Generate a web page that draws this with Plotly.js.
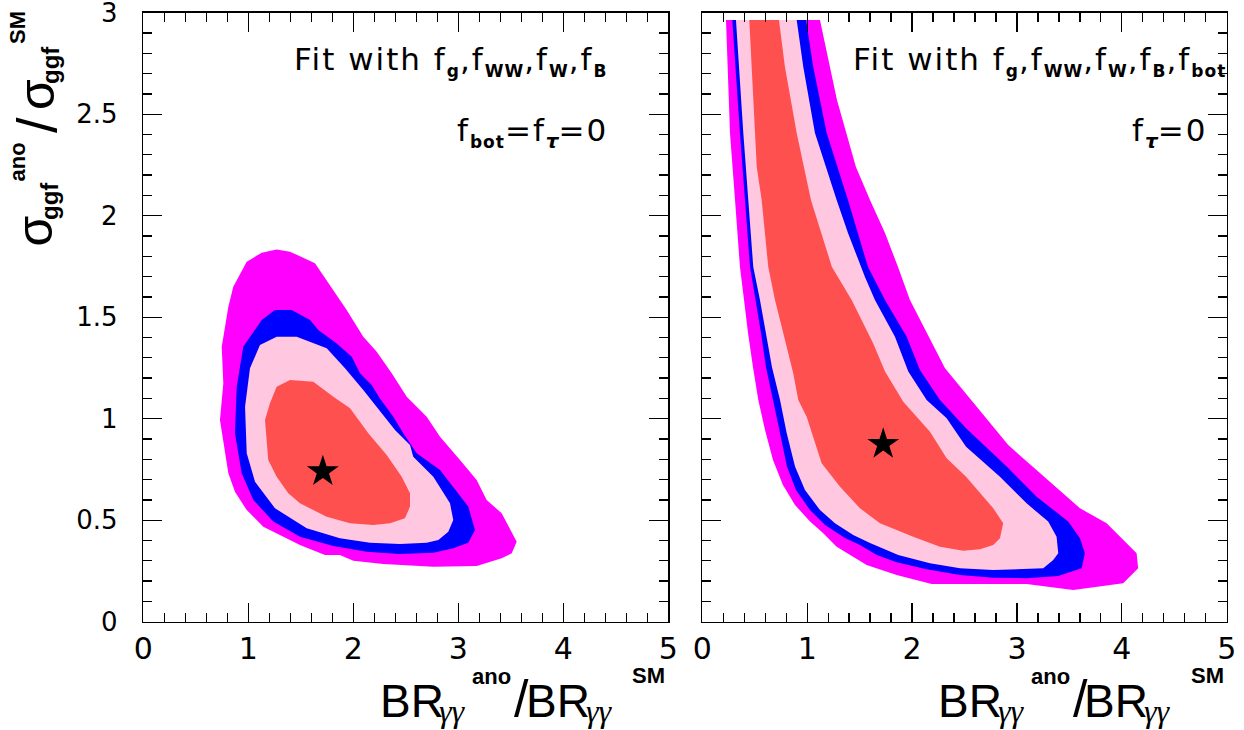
<!DOCTYPE html>
<html><head><meta charset="utf-8">
<script src="https://cdn.plot.ly/plotly-3.0.1.min.js"></script>
<style>html,body{margin:0;padding:0;background:#fff}</style>
</head><body>
<div id="chart" style="width:1244px;height:730px"></div>
<script>
// ---------------- data ----------------
// Left panel: fit with fg, fWW, fW, fB  (fbot = ftau = 0)
const leftMagentaX = [1.270,1.397,1.635,1.778,1.937,2.095,2.223,2.366,2.509,2.699,2.826,3.016,3.175,3.270,3.413,3.556,3.509,3.413,3.175,2.762,2.286,2.000,1.873,1.730,1.492,1.143,0.985,0.873,0.810,0.730,0.762,0.747,0.810,0.857,0.985,1.128];
const leftMagentaY = [1.834,1.823,1.766,1.659,1.535,1.404,1.330,1.224,1.108,1.010,0.911,0.797,0.698,0.600,0.534,0.394,0.337,0.312,0.274,0.271,0.284,0.300,0.329,0.329,0.378,0.468,0.550,0.640,0.731,0.994,1.174,1.355,1.552,1.650,1.773,1.818];
const leftBlueX = [1.254,1.413,1.588,1.667,1.842,1.985,2.064,2.175,2.254,2.381,2.476,2.604,2.826,2.952,3.095,3.159,3.095,2.952,2.762,2.445,2.128,1.810,1.492,1.238,1.048,0.937,0.873,0.890,0.952,1.128];
const leftBlueY = [1.535,1.535,1.486,1.437,1.371,1.305,1.224,1.166,1.100,1.010,0.928,0.830,0.747,0.665,0.567,0.452,0.389,0.362,0.340,0.333,0.345,0.373,0.419,0.493,0.600,0.731,0.928,1.158,1.355,1.486];
const leftPinkX = [1.270,1.461,1.747,1.921,2.095,2.270,2.397,2.540,2.571,2.762,2.921,2.952,2.905,2.810,2.699,2.445,2.159,1.873,1.556,1.254,1.064,0.985,0.969,1.016,1.111];
const leftPinkY = [1.404,1.404,1.347,1.248,1.141,1.027,0.944,0.870,0.813,0.714,0.583,0.501,0.443,0.402,0.389,0.383,0.389,0.411,0.460,0.559,0.690,0.830,1.059,1.248,1.363];
const leftRedX = [1.397,1.619,1.810,1.969,2.143,2.318,2.461,2.540,2.540,2.492,2.350,2.190,1.969,1.747,1.492,1.381,1.270,1.190,1.159,1.206,1.270];
const leftRedY = [1.191,1.182,1.108,1.051,0.928,0.821,0.714,0.633,0.567,0.509,0.485,0.476,0.485,0.517,0.583,0.633,0.714,0.797,0.994,1.076,1.158];
const leftBestX = [1.71];
const leftBestY = [0.74];

// Right panel: fit with fg, fWW, fW, fB, fbot  (ftau = 0)
const rightMagentaX = [0.226,1.122,1.284,1.465,1.599,1.742,1.866,1.980,2.314,2.917,3.601,3.855,4.141,4.156,4.013,3.537,3.092,2.187,1.853,1.567,1.281,1.151,1.027,0.884,0.769,0.674,0.598,0.534,0.483,0.436,0.398,0.359,0.312,0.264];
const rightMagentaY = [2.964,2.964,2.570,2.240,2.077,1.915,1.747,1.585,1.248,0.870,0.559,0.485,0.337,0.263,0.189,0.156,0.186,0.186,0.230,0.279,0.369,0.437,0.493,0.575,0.673,0.797,0.944,1.092,1.255,1.422,1.585,1.747,2.077,2.407];
const rightBlueX = [0.286,0.989,1.058,1.186,1.389,1.580,1.742,1.949,2.075,2.266,2.515,2.902,3.188,3.489,3.601,3.648,3.617,3.394,3.092,2.774,2.457,2.139,1.853,1.663,1.503,1.360,1.170,1.027,0.893,0.807,0.741,0.677,0.607,0.560,0.507,0.455,0.407,0.359];
const rightBlueY = [2.964,2.964,2.733,2.407,2.077,1.747,1.585,1.404,1.240,1.092,0.953,0.764,0.616,0.493,0.411,0.337,0.263,0.225,0.214,0.217,0.230,0.258,0.293,0.329,0.378,0.412,0.476,0.550,0.649,0.764,0.930,1.092,1.255,1.422,1.585,1.747,2.077,2.407];
const rightPinkX = [0.321,0.900,0.963,1.074,1.281,1.389,1.551,1.646,1.837,1.964,2.139,2.330,2.515,2.838,3.092,3.298,3.378,3.394,3.346,3.251,2.774,2.457,2.171,1.868,1.599,1.439,1.265,1.122,0.979,0.884,0.805,0.741,0.664,0.607,0.550,0.486,0.439,0.391];
const rightPinkY = [2.964,2.964,2.733,2.407,2.077,1.915,1.698,1.585,1.404,1.232,1.092,1.002,0.862,0.714,0.583,0.493,0.419,0.337,0.304,0.263,0.255,0.263,0.288,0.329,0.388,0.427,0.485,0.550,0.649,0.764,0.928,1.092,1.255,1.422,1.585,1.747,2.077,2.407];
const rightRedX = [0.448,0.731,0.788,0.900,1.036,1.236,1.424,1.503,1.630,1.742,1.916,2.171,2.330,2.515,2.774,2.869,2.838,2.774,2.647,2.488,2.266,2.011,1.694,1.503,1.313,1.138,0.995,0.915,0.867,0.757,0.693,0.629,0.566,0.519];
const rightRedY = [2.964,2.964,2.733,2.407,2.077,1.747,1.585,1.502,1.371,1.232,1.084,0.936,0.805,0.714,0.559,0.485,0.411,0.378,0.357,0.350,0.369,0.419,0.485,0.559,0.665,0.780,1.010,1.092,1.224,1.453,1.585,1.747,2.077,2.240];
const rightBestX = [1.725];
const rightBestY = [0.875];

// axes
const xRange = [0, 5];
const yRange = [0, 3];
const xMajor = 1, xMinor = 0.2;
const yMajor = 0.5, yMinor = 0.1;

// ---------------- styling ----------------
const W = 1244, H = 730;
const colMagenta = '#ff00ff', colBlue = '#0000ff', colPink = '#ffc8e0', colRed = '#ff5050';

function band(x, y, color, xa, ya) {
  return {type:'scatter', mode:'lines', x:x, y:y, fill:'toself', fillcolor:color,
          line:{width:0, color:color}, hoverinfo:'skip', xaxis:xa, yaxis:ya, showlegend:false};
}
function star(x, y, xa, ya) {
  return {type:'scatter', mode:'markers', x:x, y:y, xaxis:xa, yaxis:ya, showlegend:false,
          marker:{symbol:'star', size:24, color:'#000', line:{width:0}}, hoverinfo:'skip'};
}

const traces = [
  band(leftMagentaX, leftMagentaY, colMagenta, 'x', 'y'),
  band(leftBlueX, leftBlueY, colBlue, 'x', 'y'),
  band(leftPinkX, leftPinkY, colPink, 'x', 'y'),
  band(leftRedX, leftRedY, colRed, 'x', 'y'),
  star(leftBestX, leftBestY, 'x', 'y'),
  band(rightMagentaX, rightMagentaY, colMagenta, 'x2', 'y2'),
  band(rightBlueX, rightBlueY, colBlue, 'x2', 'y2'),
  band(rightPinkX, rightPinkY, colPink, 'x2', 'y2'),
  band(rightRedX, rightRedY, colRed, 'x2', 'y2'),
  star(rightBestX, rightBestY, 'x2', 'y2')
];

const yDom = [(H - 621.7) / H, (H - 12.7) / H];
const xDomL = [143.3 / W, 668.3 / W];
const xDomR = [702.3 / W, 1226.7 / W];

function xAxis(dom, anchor) {
  return {domain:dom, anchor:anchor, range:xRange, fixedrange:true,
    showgrid:false, zeroline:false, showline:true, linecolor:'#000', linewidth:1.6, mirror:'ticks',
    ticks:'inside', ticklen:19, tickwidth:1.3, tickcolor:'#000', tick0:0, dtick:xMajor,
    minor:{dtick:xMinor, tick0:0, ticks:'inside', ticklen:9, tickwidth:1.3, tickcolor:'#000', showgrid:false},
    tickfont:{family:'DejaVu Sans', size:30, color:'#000'}, ticklabelstandoff:0, ticklabeloverflow:'allow'};
}
function yAxis(anchor, labels) {
  return {domain:yDom, anchor:anchor, range:yRange, fixedrange:true,
    showgrid:false, zeroline:false, showline:true, linecolor:'#000', linewidth:1.6, mirror:'ticks',
    ticks:'inside', ticklen:19, tickwidth:1.3, tickcolor:'#000', tick0:0, dtick:yMajor,
    minor:{dtick:yMinor, tick0:0, ticks:'inside', ticklen:9, tickwidth:1.3, tickcolor:'#000', showgrid:false},
    showticklabels:labels, ticklabeloverflow:'allow',
    tickfont:{family:'DejaVu Sans', size:26, color:'#000'}, ticklabelstandoff:19};
}

// ---------------- text ----------------
function ann(text, px, py, o) {
  o = o || {};
  return {xref:'paper', yref:'paper', x:px / W, y:1 - py / H, text:text, showarrow:false,
    xanchor:o.xa || 'center', yanchor:o.ya || 'middle', textangle:o.rot || 0,
    font:{family:o.fam || 'Liberation Sans', size:o.size || 44, color:'#000',
          weight:o.bold ? 'bold' : 'normal', style:o.it ? 'italic' : 'normal'}};
}
const annotations = [];
// x-axis titles (pieces, placed relative to the right edge of each frame)
const xTitle = [
  {t:'BR', dx:-256.7, py:701, size:46},
  {t:'γγ', dx:-215.7, py:711, size:32, it:true, fam:'Liberation Serif'},
  {t:'ano', dx:-176.7, py:676, size:22, bold:true},
  {t:'/', dx:-146.5, py:699, size:52},
  {t:'BR', dx:-110.7, py:701, size:46},
  {t:'γγ', dx:-69, py:711, size:32, it:true, fam:'Liberation Serif'},
  {t:'SM', dx:-19.7, py:675, size:22, bold:true}
];
[668.3, 1226.7].forEach(xr => xTitle.forEach(p =>
  annotations.push(ann(p.t, xr + p.dx, p.py, {size:p.size, bold:p.bold, it:p.it, fam:p.fam}))));
// y-axis title (rotated pieces)
const yTitle = [
  {t:'σ', px:34.5, py:231, size:50},
  {t:'ggf', px:49, py:201, size:24, bold:true},
  {t:'ano', px:17, py:162.5, size:22, bold:true},
  {t:'/', px:36, py:125, size:56},
  {t:'σ', px:36.5, py:94.5, size:50},
  {t:'ggf', px:50.5, py:64.5, size:24, bold:true},
  {t:'SM', px:17.5, py:27.5, size:22, bold:true}
];
yTitle.forEach(p => annotations.push(ann(p.t, p.px, p.py, {size:p.size, bold:p.bold, rot:-90})));

// panel labels
const M = s => '<span style="letter-spacing:2px">' + s + '</span>';
const S = s => '<sub><span style="font-size:17px;font-weight:bold;letter-spacing:1px">' + s + '</span></sub>';
const T = '<sub><span style="font-size:20px;font-weight:bold;font-style:italic">τ</span></sub>';
const fitLeft = M('Fit with f') + S('g') + M(',f') + S('WW') + M(',f') + S('W') + M(',f') + S('B');
const fitRight = fitLeft + M(',f') + S('bot');
const condLeft = M('f') + S('bot') + M('=f') + T + M('=0');
const condRight = M('f') + T + M('=0');
const tf = {xa:'right', fam:'DejaVu Sans', size:31};
annotations.push(ann(fitLeft, 610, 61, tf));
annotations.push(ann(condLeft, 610, 132, tf));
annotations.push(ann(fitRight, 1228, 61, tf));
annotations.push(ann(condRight, 1209, 132, tf));

const layout = {
  width:W, height:H, margin:{l:0, r:0, t:0, b:0},
  paper_bgcolor:'#fff', plot_bgcolor:'#fff', showlegend:false,
  xaxis:xAxis(xDomL, 'y'), yaxis:yAxis('x', true),
  xaxis2:xAxis(xDomR, 'y2'), yaxis2:yAxis('x2', false),
  annotations:annotations
};
Plotly.newPlot('chart', traces, layout, {staticPlot:true, displayModeBar:false});
</script>
</body></html>
